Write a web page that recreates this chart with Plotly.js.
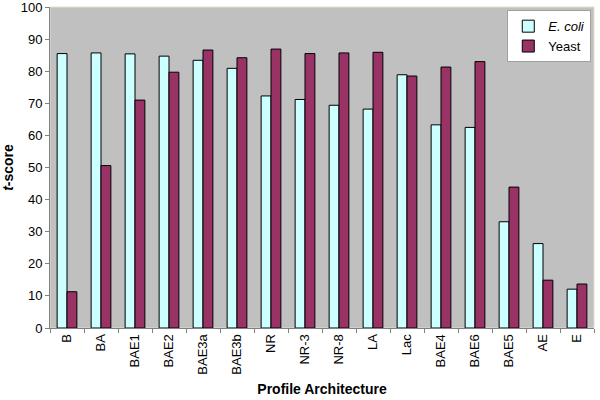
<!DOCTYPE html>
<html><head><meta charset="utf-8">
<script src="https://cdn.plot.ly/plotly-3.0.1.min.js"></script>
<style>html,body{margin:0;padding:0;background:#fff}</style>
</head><body>
<div id="chart" style="width:600px;height:400px"></div>
<script>
const categories = ["B","BA","BAE1","BAE2","BAE3a","BAE3b","NR","NR-3","NR-8","LA","Lac","BAE4","BAE6","BAE5","AE","E"];
const ecoli = [85.5,85.7,85.4,84.7,83.4,80.9,72.3,71.2,69.4,68.2,78.9,63.3,62.5,33.1,26.3,12.1];
const yeast = [11.3,50.6,71.0,79.7,86.6,84.2,86.9,85.5,85.7,85.9,78.5,81.3,83.0,43.9,14.9,13.7];
const yTicks = [0,10,20,30,40,50,60,70,80,90,100];

const font = "Liberation Sans, Arial, sans-serif";
const data = [
  {type:"bar", name:"<i>E. coli</i>", x:categories, y:ecoli,
   marker:{color:"#CCFFFF", line:{color:"#000", width:1}}},
  {type:"bar", name:"Yeast", x:categories, y:yeast,
   marker:{color:"#993366", line:{color:"#000", width:1}}}
];
const layout = {
  width:600, height:400,
  margin:{l:50, r:6, t:7, b:72},
  paper_bgcolor:"#fff", plot_bgcolor:"#C0C0C0",
  font:{family:font, size:13, color:"#000"},
  barmode:"group", bargap:0.42, bargroupgap:0,
  showlegend:true,
  legend:{x:0.995, y:0.99, xanchor:"right", yanchor:"top", bgcolor:"#fff",
          bordercolor:"#A0A0A0", borderwidth:1, font:{size:13}, tracegroupgap:0,
          itemwidth:30},
  xaxis:{type:"category", tickangle:-90, tickson:"boundaries", ticks:"outside",
         ticklen:4, tickcolor:"#808080", showline:true, linecolor:"#808080",
         tickfont:{size:13},
         title:{text:"<b>Profile Architecture</b>", font:{size:14}, standoff:10}},
  yaxis:{range:[0,100.01], tickvals:yTicks, ticktext:yTicks.map(String),
         ticks:"outside", ticklen:4, ticklabeloverflow:"allow",
         tickcolor:"#808080", showline:true, linecolor:"#808080", showgrid:false,
         zeroline:false, tickfont:{size:13},
         title:{text:"<b><i>t</i>-score</b>", font:{size:14}, standoff:10}},
  shapes:[{type:"rect", xref:"paper", yref:"paper", x0:0, x1:1, y0:0, y1:1,
           line:{color:"#E0E0C8", width:1}, layer:"below"}]
};
Plotly.newPlot("chart", data, layout, {staticPlot:true});
</script>
</body></html>
